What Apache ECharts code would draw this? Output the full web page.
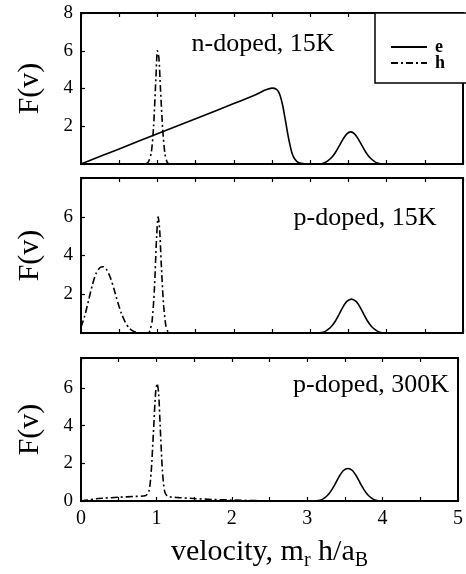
<!DOCTYPE html>
<html>
<head>
<meta charset="utf-8">
<script src="https://cdn.jsdelivr.net/npm/echarts@6/dist/echarts.min.js"></script>
<style>html,body{margin:0;padding:0;background:#fff}#c{width:466px;height:574px}</style>
</head>
<body>
<div id="c"></div>
<script>
// ---- data ----
var xTicks = [0, 1, 2, 3, 4, 5];
var panelLabels = ['n-doped, 15K', 'p-doped, 15K', 'p-doped, 300K'];

// panel 1: n-doped, 15K
var e1 = [[0,0],[0.5,0.8],[1,1.6],[1.5,2.4],[2,3.2],[2.3,3.7],[2.42,3.93],[2.5,4.02],[2.56,3.95],[2.6,3.7],[2.64,3.1],[2.68,2.2],[2.72,1.3],[2.76,0.6],[2.8,0.25],[2.85,0.07],[2.93,0.01],[3.05,0],
  [3.12,0],[3.18,0.05],[3.23,0.17],[3.28,0.34],[3.33,0.61],[3.38,0.96],[3.43,1.32],[3.48,1.6],[3.53,1.7],[3.58,1.6],[3.63,1.32],[3.68,0.96],[3.73,0.61],[3.78,0.34],[3.83,0.17],[3.88,0.05],[3.96,0],[4.2,0]];
var h1 = [[0.84,0],[0.88,0.1],[0.92,0.6],[0.95,2.0],[0.98,4.5],[1.0,6.0],[1.02,5.6],[1.04,4.0],[1.07,1.8],[1.1,0.5],[1.13,0.08],[1.16,0]];

// panel 2: p-doped, 15K
var e2 = [[3.1,0],[3.18,0.05],[3.23,0.17],[3.28,0.35],[3.33,0.62],[3.38,0.98],[3.43,1.35],[3.48,1.63],[3.54,1.75],[3.6,1.63],[3.65,1.35],[3.7,0.98],[3.75,0.62],[3.8,0.35],[3.85,0.17],[3.9,0.05],[3.98,0],[4.2,0]];
var h2 = [[0,0.3],[0.05,0.9],[0.1,1.7],[0.15,2.5],[0.2,3.1],[0.25,3.38],[0.29,3.42],[0.33,3.3],[0.38,2.9],[0.43,2.3],[0.48,1.6],[0.53,1.0],[0.58,0.55],[0.63,0.25],[0.7,0.07],[0.8,0],[0.88,0],
  [0.9,0.1],[0.93,0.6],[0.96,2.2],[0.99,5.0],[1.01,6.0],[1.03,5.3],[1.05,3.6],[1.08,1.5],[1.11,0.4],[1.14,0.05],[1.17,0]];

// panel 3: p-doped, 300K
var e3 = [[3.1,0],[3.18,0.05],[3.23,0.17],[3.28,0.35],[3.33,0.62],[3.38,0.97],[3.43,1.34],[3.48,1.62],[3.54,1.73],[3.6,1.62],[3.65,1.34],[3.7,0.97],[3.75,0.62],[3.8,0.35],[3.85,0.17],[3.9,0.05],[3.98,0],[4.2,0]];
var h3 = [[0,0],[0.1,0.05],[0.2,0.12],[0.3,0.15],[0.5,0.2],[0.7,0.24],[0.85,0.28],[0.9,0.5],[0.93,1.5],[0.96,3.6],[0.99,5.8],[1.01,6.25],[1.03,5.7],[1.05,4.0],[1.08,1.6],[1.11,0.5],[1.15,0.25],[1.3,0.18],[1.5,0.13],[1.75,0.08],[2.0,0.05],[2.3,0.02],[2.6,0]];

// ---- chart ----
var FONT = 'Liberation Serif';
var chart = echarts.init(document.getElementById('c'), null, {renderer: 'canvas'});
var grids = [
  {left: 81, top: 13, width: 382, height: 151},
  {left: 81, top: 178, width: 382, height: 155},
  {left: 81, top: 358, width: 382, height: 143}
];
grids.forEach(function (g) { g.show = true; g.borderColor = '#000'; g.borderWidth = 2; g.backgroundColor = 'transparent'; });

var yMax = [8, 8, 7.6];
var yFmt = [
  function (v) { return v === 0 ? '' : v; },
  function (v) { return (v === 0 || v === 8) ? '' : v; },
  function (v) { return v % 2 === 0 ? v : ''; }
];

var xAxes = [], yAxes = [];
for (var i = 0; i < 3; i++) {
  var base = {
    type: 'value', gridIndex: i, min: xTicks[0], max: xTicks[xTicks.length - 1], interval: 0.5,
    splitLine: {show: false},
    axisLine: {show: true, lineStyle: {color: '#000', width: 2}},
    axisTick: {show: true, inside: true, length: 4, lineStyle: {color: '#000', width: 1.2}}
  };
  xAxes.push(Object.assign({}, base, {
    position: 'bottom',
    axisLabel: {show: i === 2, margin: 8, color: '#000', fontFamily: FONT, fontSize: 20,
      formatter: function (v) { return xTicks.indexOf(v) >= 0 ? String(v) : ''; }},
    name: i === 2 ? '{n|velocity, m}{s|r}{n| h/a}{s|B}' : '',
    nameLocation: 'middle', nameGap: 36,
    nameTextStyle: {rich: {
      n: {fontFamily: FONT, fontSize: 30, color: '#000', lineHeight: 30},
      s: {fontFamily: FONT, fontSize: 20, color: '#000', lineHeight: 20, padding: [18, 0, 0, 0]}
    }}
  }));
  xAxes.push(Object.assign({}, base, {position: 'top', axisLabel: {show: false}}));
  yAxes.push({
    type: 'value', gridIndex: i, min: 0, max: yMax[i], interval: 2,
    splitLine: {show: false},
    axisLine: {show: true, lineStyle: {color: '#000', width: 2}},
    axisTick: {show: true, inside: true, length: 4, lineStyle: {color: '#000', width: 1.2}},
    axisLabel: {margin: 8, color: '#000', fontFamily: FONT, fontSize: 19, formatter: yFmt[i]},
    name: 'F(v)', nameLocation: 'middle', nameRotate: 90, nameGap: 36,
    nameTextStyle: {fontFamily: FONT, fontSize: 30, color: '#000'}
  });
}

var dashDot = [7, 3, 2, 3];
function mk(name, data, idx, type) {
  return {
    name: name, type: 'line', xAxisIndex: idx * 2, yAxisIndex: idx, data: data,
    showSymbol: false, symbol: 'none', smooth: 0.25, animation: false, silent: true,
    lineStyle: {color: '#000', width: 1.6, type: type},
    itemStyle: {color: '#000'}, z: 3
  };
}

var labelPos = [[263, 44], [365, 218], [371, 385]];
var graphics = panelLabels.map(function (t, i) {
  return {type: 'text', x: labelPos[i][0], y: labelPos[i][1], z: 10,
    style: {text: t, fill: '#000', font: '26px "' + FONT + '"', align: 'center', verticalAlign: 'middle',
      textAlign: 'center', textVerticalAlign: 'middle'}};
});

chart.setOption({
  animation: false,
  backgroundColor: '#fff',
  grid: grids,
  xAxis: xAxes,
  yAxis: yAxes,
  legend: {
    data: ['e', 'h'], orient: 'vertical', left: 375, top: 13,
    padding: [25, 22, 11, 15], itemWidth: 36, itemHeight: 14, itemGap: -2,
    itemStyle: {opacity: 0},
    borderColor: '#000', borderWidth: 1.5, backgroundColor: '#fff',
    textStyle: {fontFamily: FONT, fontSize: 18, color: '#000', fontWeight: 'bold', padding: [0, 0, 0, 3]},
    selectedMode: false
  },
  graphic: graphics,
  series: [
    mk('e', e1, 0, 'solid'), mk('h', h1, 0, dashDot),
    mk('e', e2, 1, 'solid'), mk('h', h2, 1, dashDot),
    mk('e', e3, 2, 'solid'), mk('h', h3, 2, dashDot)
  ]
});
</script>
</body>
</html>
